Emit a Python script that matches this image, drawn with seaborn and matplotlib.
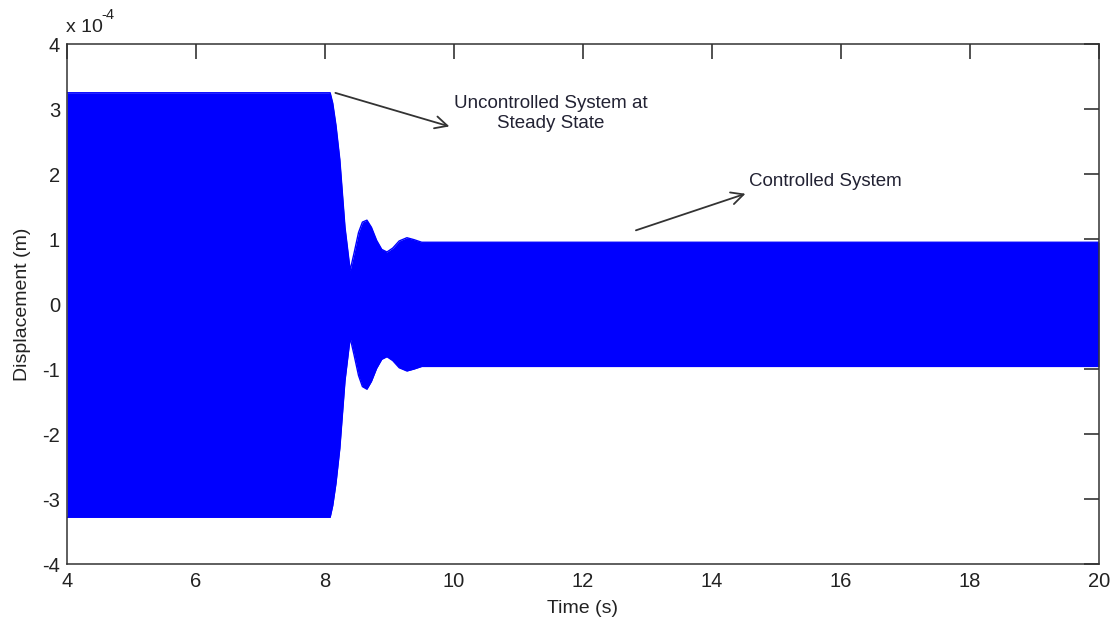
import matplotlib
matplotlib.use("Agg")
import matplotlib.pyplot as plt
import seaborn as sns
import pandas as pd

# Envelope of the displacement signal (x 1e-4 m)
time_s = [4.0, 8.08, 8.12, 8.17, 8.23, 8.31, 8.39, 8.45, 8.52, 8.58, 8.65, 8.72,
          8.80, 8.88, 8.96, 9.05, 9.15, 9.27, 9.38, 9.50, 9.62, 20.0]
upper_env = [3.25, 3.25, 3.09, 2.75, 2.22, 1.18, 0.52, 0.78, 1.10, 1.26, 1.29, 1.18,
             0.98, 0.84, 0.80, 0.86, 0.97, 1.02, 0.99, 0.95, 0.95, 0.95]
lower_env = [-3.28, -3.28, -3.10, -2.76, -2.22, -1.18, -0.52, -0.78, -1.10, -1.27, -1.31, -1.19,
             -0.99, -0.85, -0.81, -0.87, -0.98, -1.03, -1.00, -0.96, -0.96, -0.96]

x_ticks = [4, 6, 8, 10, 12, 14, 16, 18, 20]
y_ticks = [-4, -3, -2, -1, 0, 1, 2, 3, 4]

df = pd.DataFrame({"t": time_s, "up": upper_env, "lo": lower_env})

sns.set_theme(style="white")
plt.rcParams['font.family'] = ['Liberation Sans', 'DejaVu Sans']

fig = plt.figure(figsize=(11.13, 6.26), dpi=100)
ax = fig.add_axes([0.0602, 0.0990, 0.9272, 0.8307])

blue = (0, 0, 1)
ax.fill_between(df["t"], df["lo"], df["up"], color=blue, linewidth=0)
sns.lineplot(data=df, x="t", y="up", ax=ax, color=blue, linewidth=1.0)
sns.lineplot(data=df, x="t", y="lo", ax=ax, color=blue, linewidth=1.0)

ax.set_xlim(4, 20)
ax.set_ylim(-4, 4)
ax.set_xticks(x_ticks)
ax.set_yticks(y_ticks)
ax.set_xticklabels([str(v) for v in x_ticks])
ax.set_yticklabels([str(v) for v in y_ticks])
ax.tick_params(direction="in", length=11, width=1.1, top=True, right=True,
               labelsize=14.5, colors="#222222")
ax.tick_params(axis="x", pad=6)
ax.tick_params(axis="y", pad=5)
for s in ax.spines.values():
    s.set_visible(True)
    s.set_color("#333333")
    s.set_linewidth(1.1)

ax.set_xlabel("Time (s)", fontsize=14, color="#222222", labelpad=6)
ax.set_ylabel("Displacement (m)", fontsize=14, color="#222222", labelpad=8)

fig.text(0.059, 0.942, "x 10", fontsize=14, color="#222222", ha="left", va="bottom")
fig.text(0.0915, 0.965, "-4", fontsize=10.5, color="#222222", ha="left", va="bottom")

ax.annotate("", xy=(9.97, 2.72), xytext=(8.12, 3.26),
            arrowprops=dict(arrowstyle="->", color="#333333", lw=1.3, mutation_scale=22))
ax.text(11.50, 2.93, "Uncontrolled System at\nSteady State", fontsize=13.5,
        color="#222233", ha="center", va="center", linespacing=1.25)

ax.annotate("", xy=(14.56, 1.71), xytext=(12.78, 1.12),
            arrowprops=dict(arrowstyle="->", color="#333333", lw=1.3, mutation_scale=22))
ax.text(14.58, 1.89, "Controlled System", fontsize=13.5, color="#222233",
        ha="left", va="center")

fig.savefig("out.png", dpi=100, facecolor="white")
